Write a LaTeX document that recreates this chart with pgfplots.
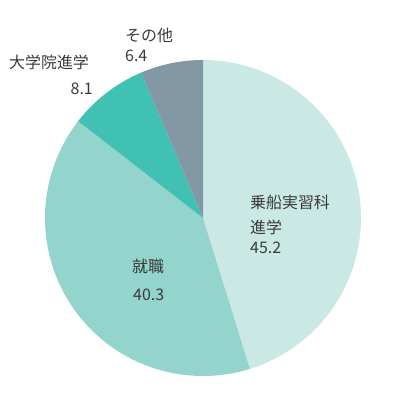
\documentclass[border=0pt]{standalone}
\usepackage{fontspec}
\setmainfont{Noto Sans CJK JP}
\usepackage{pgfplots}
\pgfplotsset{compat=1.18}
\definecolor{cA}{HTML}{CBE9E4}
\definecolor{cB}{HTML}{93D4CC}
\definecolor{cC}{HTML}{41C0B4}
\definecolor{cD}{HTML}{8299A5}
\definecolor{txt}{HTML}{3A3A3A}
\tikzset{lbl/.style={font=\fontsize{16}{19}\selectfont, text=txt, inner sep=0pt}}
\begin{document}
\begin{tikzpicture}
\begin{axis}[hide axis, scale only axis, width=400bp, height=398bp,
  xmin=0, xmax=400, ymin=0, ymax=398, y dir=reverse, clip=false]
\path (axis cs:0,0) rectangle (axis cs:400,398);
% shares: 45.2, 40.3, 8.1, 6.4 (percent), clockwise from top
\addplot[draw=none, fill=cA, domain=90:-72.72, samples=90, variable=\t] ({203+158*cos(t)},{218-158*sin(t)}) -- (axis cs:203,218) -- cycle;
\addplot[draw=none, fill=cB, domain=-72.72:-217.80, samples=90, variable=\t] ({203+158*cos(t)},{218-158*sin(t)}) -- (axis cs:203,218) -- cycle;
\addplot[draw=none, fill=cC, domain=-217.80:-246.96, samples=30, variable=\t] ({203+158*cos(t)},{218-158*sin(t)}) -- (axis cs:203,218) -- cycle;
\addplot[draw=none, fill=cD, domain=-246.96:-270, samples=30, variable=\t] ({203+158*cos(t)},{218-158*sin(t)}) -- (axis cs:203,218) -- cycle;
\node[lbl, anchor=west] at (axis cs:250,202) {乗船実習科};
\node[lbl, anchor=west] at (axis cs:250,227) {進学};
\node[lbl, anchor=west] at (axis cs:250,248) {45.2};
\node[lbl, anchor=west] at (axis cs:132,266) {就職};
\node[lbl, anchor=west] at (axis cs:133,295) {40.3};
\node[lbl, anchor=west] at (axis cs:9,62) {大学院進学};
\node[lbl, anchor=east] at (axis cs:93,89) {8.1};
\node[lbl, anchor=west] at (axis cs:125,35) {その他};
\node[lbl, anchor=west] at (axis cs:125,56) {6.4};
\end{axis}
\end{tikzpicture}
\end{document}
